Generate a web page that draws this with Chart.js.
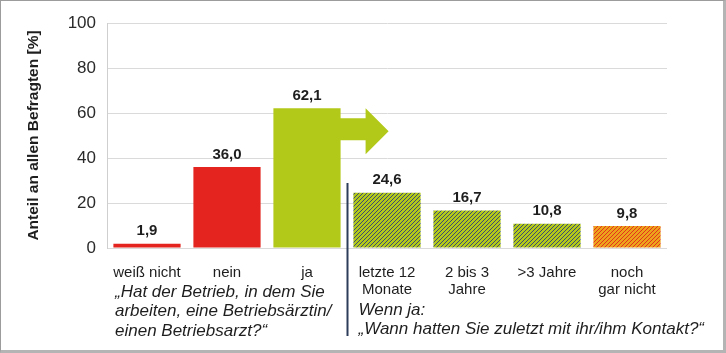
<!DOCTYPE html>
<html><head><meta charset="utf-8">
<script src="https://cdn.jsdelivr.net/npm/chart.js@4"></script>
<style>
html,body{margin:0;padding:0;background:#fff}
.wrap{position:relative;width:726px;height:353px;background:#fff}
.frame{position:absolute;inset:0;box-sizing:border-box;border-top:1px solid #9c9c9c;border-left:1px solid #9c9c9c;border-right:3px solid #b4b4b4;border-bottom:3px solid #b4b4b4;pointer-events:none}
</style></head>
<body>
<div class="wrap"><canvas id="c"></canvas><div class="frame"></div></div>
<script>
/* Betriebsarzt-Umfrage: Anteil an allen Befragten */
const CATS=[['weiß nicht'],['nein'],['ja'],['letzte 12','Monate'],['2 bis 3','Jahre'],['>3 Jahre'],['noch','gar nicht']];
const VALUES=[1.9,36.0,62.1,24.6,16.7,10.8,9.8];
const Y_TICKS=[0,20,40,60,80,100];
const Q1=['„Hat der Betrieb, in dem Sie','arbeiten, eine Betriebsärztin/','einen Betriebsarzt?“'];
const Q2=['Wenn ja:','„Wann hatten Sie zuletzt mit ihr/ihm Kontakt?“'];

const RED='#e3241f', LIME='#b3c91a', NAVY='#3a4d70';
const FONT='"Liberation Sans", Arial, sans-serif';

function stripes(base,line){
  const t=document.createElement('canvas');t.width=4;t.height=4;
  const g=t.getContext('2d');
  g.fillStyle=base;g.fillRect(0,0,4,4);
  g.strokeStyle=line;g.lineWidth=1;
  g.beginPath();
  g.moveTo(0,4);g.lineTo(4,0);
  g.moveTo(-1,1);g.lineTo(1,-1);
  g.moveTo(3,5);g.lineTo(5,3);
  g.stroke();
  return document.getElementById('c').getContext('2d').createPattern(t,'repeat');
}
const GREEN_HATCH=stripes(LIME,NAVY);
const ORANGE_HATCH=stripes('#eda21c','#e3301f');
const COLORS=[RED,RED,LIME,GREEN_HATCH,GREEN_HATCH,GREEN_HATCH,ORANGE_HATCH];

const fmt=v=>v.toFixed(1).replace('.',',');

const extras={id:'extras',
  afterDatasetsDraw(chart){
    const {ctx,chartArea:ca,scales:{x,y}}=chart;
    const bars=chart.getDatasetMeta(0).data;
    ctx.save();
    // Werte über den Balken
    ctx.fillStyle='#1e1e1e';ctx.font='bold 15px '+FONT;ctx.textAlign='center';ctx.textBaseline='bottom';
    bars.forEach((b,i)=>ctx.fillText(fmt(VALUES[i]),b.x,b.y-5));
    // Pfeil aus dem "ja"-Balken
    const ja=bars[2], r=ja.x+ja.width/2, top=ja.y;
    ctx.fillStyle=LIME;ctx.beginPath();
    ctx.moveTo(r-1,top+10);ctx.lineTo(r+25,top+10);ctx.lineTo(r+25,top);
    ctx.lineTo(r+48,top+23);ctx.lineTo(r+25,top+46);ctx.lineTo(r+25,top+32);
    ctx.lineTo(r-1,top+32);ctx.closePath();ctx.fill();
    // Trennlinie
    const dx=Math.round((x.getPixelForValue(2)+x.getPixelForValue(3))/2)+0.5;
    ctx.strokeStyle='#2c3d5a';ctx.lineWidth=2;
    ctx.beginPath();ctx.moveTo(dx,ca.bottom-65);ctx.lineTo(dx,ca.bottom+88);ctx.stroke();
    // Fragen
    ctx.fillStyle='#1e1e1e';ctx.font='italic 17px '+FONT;ctx.textAlign='left';ctx.textBaseline='middle';
    Q1.forEach((s,i)=>ctx.fillText(s,115,ca.bottom+44+i*19.5));
    Q2.forEach((s,i)=>ctx.fillText(s,dx+11,ca.bottom+62+i*19));
    ctx.restore();
  }};

new Chart(document.getElementById('c'),{type:'bar',
  data:{labels:CATS,datasets:[{data:VALUES,backgroundColor:COLORS,barPercentage:0.84,categoryPercentage:1}]},
  options:{responsive:true,maintainAspectRatio:false,animation:false,
    layout:{padding:{top:23,right:59,left:24,bottom:0}},
    plugins:{legend:{display:false},tooltip:{enabled:false}},
    scales:{
      x:{grid:{display:false},border:{display:false},
        ticks:{color:'#1e1e1e',font:{family:FONT,size:15,lineHeight:1.15},padding:8,maxRotation:0,autoSkip:false},
        afterFit:s=>{s.height=105;}},
      y:{min:0,max:100,afterBuildTicks:s=>{s.ticks=Y_TICKS.map(v=>({value:v}));},
        grid:{color:'#dadada',drawTicks:false},border:{color:'#cfcfcf'},
        ticks:{color:'#2a2a2a',font:{family:FONT,size:17},padding:11},
        title:{display:true,text:'Anteil an allen Befragten [%]',color:'#1e1e1e',font:{family:FONT,size:15.5,weight:'bold'},padding:0},
        afterFit:s=>{s.width=83;}}
    }},
  plugins:[extras]});
</script>
</body></html>
